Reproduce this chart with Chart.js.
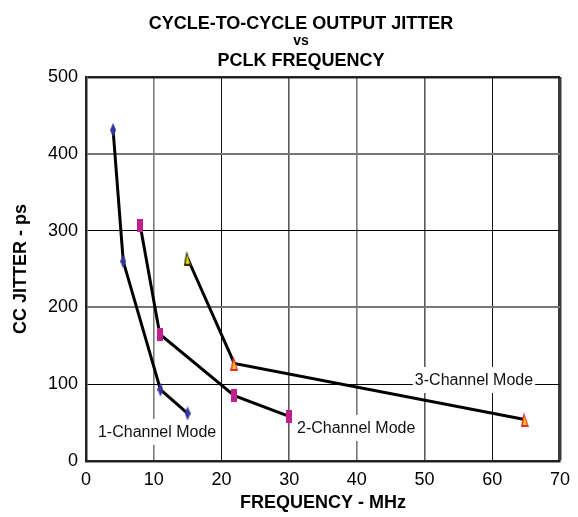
<!DOCTYPE html>
<html>
<head>
<meta charset="utf-8">
<script src="https://cdn.jsdelivr.net/npm/chart.js@4.4.1/dist/chart.umd.min.js"></script>
<style>
  html, body { margin: 0; padding: 0; background: #fff; }
  #wrap { width: 578px; height: 517px; }
</style>
</head>
<body>
<div id="wrap"><canvas id="jitterChart"></canvas></div>
<script>
// frequency (MHz) / cycle-to-cycle jitter (ps) for each channel mode
const oneChFreq = [4.0, 5.5, 11.0, 15.0];
const oneChJitter = [431, 260, 93, 62];
const twoChFreq = [8.0, 10.9, 21.9, 30.0];
const twoChJitter = [307, 165, 85, 58];
const threeChFreq = [15.0, 21.9, 64.8];
const threeChJitter = [264, 127, 54];

const modeNames = ['1-Channel Mode', '2-Channel Mode', '3-Channel Mode'];
const xTicks = [0, 10, 20, 30, 40, 50, 60, 70];
const yTicks = [0, 100, 200, 300, 400, 500];

const FONT = 'Arial, "Liberation Sans", Helvetica, sans-serif';

function toPoints(xs, ys) {
    return xs.map((x, i) => ({ x: x, y: ys[i] }));
}

// small bitmap markers used as point styles
function makeMarker(w, h, draw) {
    const c = document.createElement('canvas');
    c.width = w;
    c.height = h;
    draw(c.getContext('2d'), w, h);
    return c;
}
const diamond = makeMarker(6, 14, (g, w, h) => {
    g.fillStyle = '#34349c';
    g.beginPath();
    g.moveTo(w / 2, 0);
    g.lineTo(w, h / 2);
    g.lineTo(w / 2, h);
    g.lineTo(0, h / 2);
    g.closePath();
    g.fill();
});
const bar = makeMarker(6, 13, (g, w, h) => {
    g.fillStyle = '#c21f8e';
    g.fillRect(0, 0, w, h);
});
function triangle(edge, inner) {
    return makeMarker(8, 15, (g, w, h) => {
        g.fillStyle = edge;
        g.beginPath();
        g.moveTo(w / 2 - 1, 0);
        g.lineTo(w, h);
        g.lineTo(0, h);
        g.closePath();
        g.fill();
        g.fillStyle = inner;
        g.beginPath();
        g.moveTo(w / 2 - 0.5, 4);
        g.lineTo(w - 2, h - 2);
        g.lineTo(2, h - 2);
        g.closePath();
        g.fill();
    });
}
const triYellow = triangle('#333300', '#f2e21c');
const triRed = triangle('#e8262a', '#ffd21a');

// three-line heading, "vs" set smaller
const headingPlugin = {
    id: 'heading',
    afterDraw(chart) {
        const ctx = chart.ctx;
        ctx.save();
        ctx.fillStyle = '#000';
        ctx.textAlign = 'center';
        ctx.textBaseline = 'alphabetic';
        ctx.font = 'bold 18px ' + FONT;
        ctx.fillText('CYCLE-TO-CYCLE OUTPUT JITTER', 301, 29);
        ctx.font = 'bold 14px ' + FONT;
        ctx.fillText('vs', 301, 45);
        ctx.font = 'bold 18px ' + FONT;
        ctx.fillText('PCLK FREQUENCY', 301, 66);
        ctx.restore();
    }
};

// mode captions on white boxes that break the grid behind them
const captionSpots = [[10.5, 38], [39.9, 43], [57.3, 105.5]];
const captionPlugin = {
    id: 'captions',
    beforeDatasetsDraw(chart) {
        const ctx = chart.ctx;
        const xs = chart.scales.x, ys = chart.scales.y;
        ctx.save();
        ctx.font = '16px ' + FONT;
        ctx.textAlign = 'center';
        ctx.textBaseline = 'middle';
        modeNames.forEach((name, i) => {
            const px = xs.getPixelForValue(captionSpots[i][0]);
            const py = ys.getPixelForValue(captionSpots[i][1]);
            const w = ctx.measureText(name).width;
            ctx.fillStyle = '#fff';
            ctx.fillRect(px - w / 2 - 2, py - 13, w + 4, 26);
            ctx.fillStyle = '#111';
            ctx.fillText(name, px, py + 1);
        });
        ctx.restore();
    }
};

function xGridColor(c) {
    const v = c.tick ? c.tick.value : 0;
    if (v === 0) return 'rgba(0,0,0,0)';
    if (v === 70) return '#3a3a3a';
    if (v === 20 || v === 60) return '#111';
    if (v === 10 || v === 40) return '#7a7a7a';
    return '#5a5a5a';
}
function xGridWidth(c) {
    const v = c.tick ? c.tick.value : 0;
    if (v === 70) return 3.5;
    if (v === 20 || v === 60) return 1;
    return 1.6;
}
function yGridColor(c) {
    const v = c.tick ? c.tick.value : 0;
    if (v === 0) return 'rgba(0,0,0,0)';
    if (v === 500) return '#222';
    if (v === 100 || v === 300) return '#000';
    return '#777';
}
function yGridWidth(c) {
    const v = c.tick ? c.tick.value : 0;
    if (v === 500) return 2.5;
    if (v === 100 || v === 300) return 1;
    return 2;
}

const lineStyle = {
    borderColor: '#000',
    borderWidth: 3,
    showLine: true,
    fill: false,
    tension: 0,
    pointRadius: 7,
    pointHoverRadius: 7
};

const ctx = document.getElementById('jitterChart').getContext('2d');
const jitterChart = new Chart(ctx, {
    type: 'line',
    data: {
        datasets: [
            Object.assign({ label: modeNames[0], data: toPoints(oneChFreq, oneChJitter), pointStyle: diamond }, lineStyle),
            Object.assign({ label: modeNames[1], data: toPoints(twoChFreq, twoChJitter), pointStyle: bar }, lineStyle),
            Object.assign({ label: modeNames[2], data: toPoints(threeChFreq, threeChJitter),
                pointStyle: [triYellow, triRed, triRed] }, lineStyle)
        ]
    },
    options: {
        responsive: true,
        maintainAspectRatio: false,
        animation: false,
        events: [],
        layout: { padding: { top: 77, right: 11, left: 0, bottom: 0 } },
        plugins: {
            legend: { display: false },
            tooltip: { enabled: false },
            title: { display: false }
        },
        scales: {
            x: {
                type: 'linear',
                min: 0,
                max: 70,
                afterBuildTicks: (axis) => { axis.ticks = xTicks.map(v => ({ value: v })); },
                afterFit: (axis) => { axis.height = 56; },
                border: { display: true, color: '#222', width: 2.5 },
                grid: { drawTicks: false, color: xGridColor, lineWidth: xGridWidth },
                ticks: { color: '#000', padding: 8, maxRotation: 0, font: { family: FONT, size: 18 } },
                title: {
                    display: true,
                    text: 'FREQUENCY - MHz',
                    color: '#000',
                    padding: { top: 0, bottom: 3 },
                    font: { family: FONT, size: 18, weight: 'bold' }
                }
            },
            y: {
                type: 'linear',
                min: 0,
                max: 500,
                afterBuildTicks: (axis) => { axis.ticks = yTicks.map(v => ({ value: v })); },
                afterFit: (axis) => { axis.width = 86; },
                border: { display: true, color: '#222', width: 2.5 },
                grid: { drawTicks: false, color: yGridColor, lineWidth: yGridWidth },
                ticks: { color: '#000', padding: 8, font: { family: FONT, size: 18 } },
                title: {
                    display: true,
                    text: 'CC JITTER - ps',
                    color: '#000',
                    padding: { top: 10, bottom: 0 },
                    font: { family: FONT, size: 18, weight: 'bold' }
                }
            }
        }
    },
    plugins: [captionPlugin, headingPlugin]
});
</script>
</body>
</html>
